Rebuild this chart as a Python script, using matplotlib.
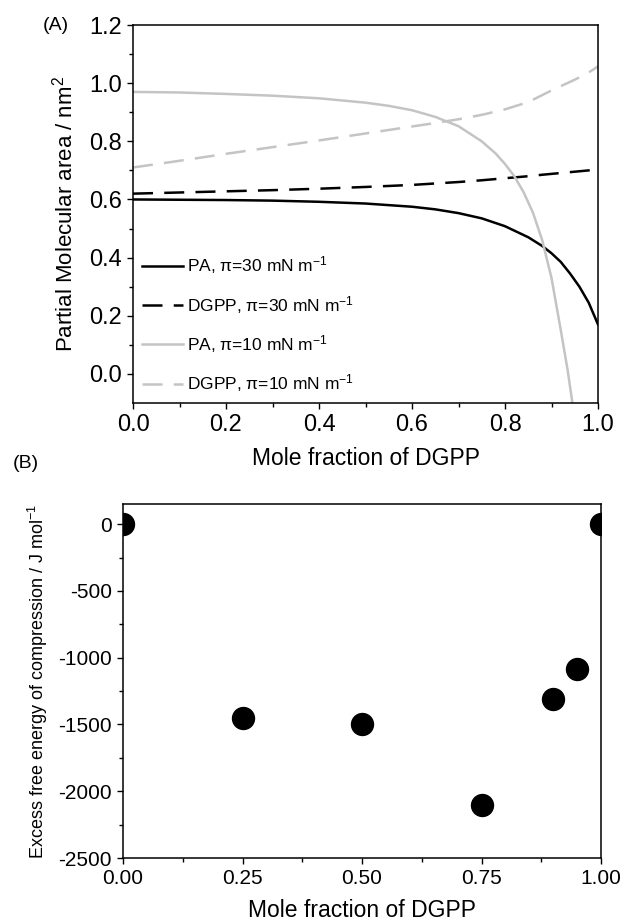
import numpy as np
import matplotlib.pyplot as plt

plt.rcParams['font.family'] = ['Liberation Sans', 'DejaVu Sans']
plt.rcParams['mathtext.default'] = 'regular'
plt.rcParams['axes.unicode_minus'] = False

# panel A: partial molecular areas
x_a = [0.0, 0.1, 0.2, 0.3, 0.4, 0.5, 0.6, 0.65, 0.7, 0.75, 0.8, 0.85, 0.88, 0.9, 0.92, 0.94, 0.96, 0.98, 1.0]
pa_30 = [0.600, 0.599, 0.598, 0.596, 0.592, 0.586, 0.575, 0.566, 0.553, 0.535, 0.508, 0.470, 0.440, 0.415, 0.385, 0.345, 0.300, 0.245, 0.170]
dgpp_30 = [0.620, 0.624, 0.628, 0.632, 0.637, 0.643, 0.650, 0.655, 0.660, 0.666, 0.673, 0.680, 0.685, 0.688, 0.691, 0.694, 0.697, 0.700, 0.703]

x_pa10 = [0.0, 0.1, 0.2, 0.3, 0.4, 0.5, 0.55, 0.6, 0.65, 0.7, 0.75, 0.78, 0.8, 0.82, 0.84, 0.86, 0.88, 0.9, 0.92, 0.935, 0.945]
pa_10 = [0.970, 0.968, 0.963, 0.957, 0.948, 0.933, 0.922, 0.907, 0.884, 0.852, 0.800, 0.758, 0.722, 0.680, 0.625, 0.555, 0.460, 0.330, 0.150, 0.010, -0.100]

x_dg10 = [0.0, 0.1, 0.2, 0.3, 0.4, 0.5, 0.6, 0.65, 0.7, 0.75, 0.8, 0.85, 0.9, 0.95, 0.97, 0.98, 0.99, 1.0]
dgpp_10 = [0.710, 0.733, 0.757, 0.780, 0.803, 0.827, 0.851, 0.863, 0.876, 0.891, 0.910, 0.935, 0.975, 1.012, 1.028, 1.037, 1.047, 1.058]

labels_a = ['PA, $\\pi$=30 mN m$^{-1}$', 'DGPP, $\\pi$=30 mN m$^{-1}$',
            'PA, $\\pi$=10 mN m$^{-1}$', 'DGPP, $\\pi$=10 mN m$^{-1}$']

# panel B: excess free energy of compression
x_b = [0.0, 0.25, 0.5, 0.75, 0.9, 0.95, 1.0]
g_exc = [0, -1450, -1500, -2100, -1310, -1085, 0]

grey = '#c4c4c4'
dash = (0, (8, 4.5))

fig = plt.figure(figsize=(6.25, 9.24), dpi=100)
ax1 = fig.add_axes([0.2128, 0.5639, 0.744, 0.409])
ax2 = fig.add_axes([0.1968, 0.0714, 0.765, 0.383])

ax1.plot(x_a, pa_30, color='black', lw=1.8, label=labels_a[0])
ax1.plot(x_a, dgpp_30, color='black', lw=1.8, ls=dash, label=labels_a[1])
ax1.plot(x_pa10, pa_10, color=grey, lw=1.8, label=labels_a[2])
ax1.plot(x_dg10, dgpp_10, color=grey, lw=1.8, ls=dash, label=labels_a[3])

ax1.set_xlim(0, 1)
ax1.set_ylim(-0.1, 1.2)
ax1.set_xticks(np.arange(0, 1.01, 0.2))
ax1.set_xticks(np.arange(0.1, 1.0, 0.2), minor=True)
ax1.set_yticks(np.arange(0, 1.21, 0.2))
ax1.set_yticks(np.arange(0.1, 1.2, 0.2), minor=True)
ax1.xaxis.set_major_formatter(plt.FormatStrFormatter('%.1f'))
ax1.yaxis.set_major_formatter(plt.FormatStrFormatter('%.1f'))
ax1.set_xlabel('Mole fraction of DGPP', fontsize=16.5, labelpad=8)
ax1.set_ylabel('Partial Molecular area / nm$^2$', fontsize=16, labelpad=8)
leg = ax1.legend(loc='lower left', frameon=False, fontsize=12.5, handlelength=2.4,
                 handletextpad=0.2, labelspacing=1.0, borderaxespad=0.1,
                 bbox_to_anchor=(0.0, 0.0))

ax2.scatter(x_b, g_exc, s=250, color='black', zorder=3)
ax2.set_xlim(0, 1)
ax2.set_ylim(-2500, 150)
ax2.set_xticks(np.arange(0, 1.01, 0.25))
ax2.set_xticks(np.arange(0.125, 1.0, 0.25), minor=True)
ax2.set_yticks(np.arange(-2500, 1, 500))
ax2.set_yticks(np.arange(-2250, 1, 500), minor=True)
ax2.xaxis.set_major_formatter(plt.FormatStrFormatter('%.2f'))
ax2.set_xlabel('Mole fraction of DGPP', fontsize=16.5, labelpad=8)
ax2.set_ylabel('Excess free energy of compression / J mol$^{-1}$', fontsize=13, labelpad=6)

for ax, fs in ((ax1, 17), (ax2, 15)):
    ax.tick_params(which='both', direction='out', top=False, right=False, width=1)
    ax.tick_params(which='major', length=4.5, labelsize=fs)
    ax.tick_params(which='minor', length=3)
    for sp in ax.spines.values():
        sp.set_linewidth(1.1)

fig.text(56 / 625, 1 - 25 / 924, '(A)', fontsize=14, ha='center', va='center')
fig.text(26 / 625, 1 - 463 / 924, '(B)', fontsize=14, ha='center', va='center')

fig.savefig('out.png', dpi=100)
